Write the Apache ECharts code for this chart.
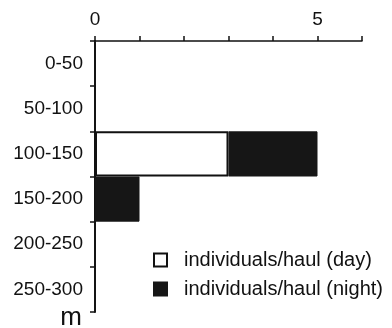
<!DOCTYPE html>
<html>
<head>
<meta charset="utf-8">
<script src="https://cdn.jsdelivr.net/npm/echarts@6/dist/echarts.min.js"></script>
<style>
  html, body { margin: 0; padding: 0; background: #fff; }
  #chart { width: 392px; height: 328px; }
</style>
</head>
<body>
<div id="chart"></div>
<script>
// depth classes (m)
var depths = ['0-50', '50-100', '100-150', '150-200', '200-250', '250-300'];
// individuals per haul
var dayValues = [0, 0, 3, 0, 0, 0];
var nightValues = [0, 0, 2, 1, 0, 0];
var xTickLabels = ['0', '5'];

var font = '"Liberation Sans", Arial, Helvetica, sans-serif';

var chart = echarts.init(document.getElementById('chart'));

var option = {
    animation: false,
    backgroundColor: '#fff',
    textStyle: { fontFamily: font, color: '#000' },
    grid: {
        left: 95,
        top: 41,
        right: 30,
        bottom: 16,
        containLabel: false,
        outerBoundsMode: 'none'
    },
    legend: {
        orient: 'vertical',
        left: 148,
        top: 245,
        itemWidth: 13,
        itemHeight: 13,
        itemGap: 9,
        icon: 'rect',
        textStyle: { fontSize: 20, lineHeight: 20, color: '#111', fontFamily: font, padding: [0, 0, 0, 12] },
        data: [
            { name: 'individuals/haul (day)', itemStyle: { color: '#fff', borderColor: '#111', borderWidth: 2 } },
            { name: 'individuals/haul (night)', itemStyle: { color: '#161616' } }
        ]
    },
    xAxis: {
        type: 'value',
        position: 'top',
        min: 0,
        max: 6,
        interval: 1,
        axisLine: { show: true, lineStyle: { color: '#111', width: 1.5 } },
        axisTick: { show: true, length: 5, lineStyle: { color: '#111', width: 1.5 } },
        splitLine: { show: false },
        axisLabel: {
            margin: 12,
            fontSize: 19,
            color: '#111',
            fontFamily: font,
            formatter: function (v) {
                var s = String(v);
                return xTickLabels.indexOf(s) >= 0 ? s : '';
            }
        }
    },
    yAxis: {
        type: 'category',
        inverse: true,
        data: depths,
        name: 'm',
        nameLocation: 'end',
        nameGap: 6,
        nameTextStyle: {
            fontSize: 26,
            color: '#111',
            fontFamily: font,
            align: 'right',
            verticalAlign: 'middle',
            padding: [0, 13, 0, 0]
        },
        axisLine: { show: true, lineStyle: { color: '#111', width: 2 } },
        axisTick: { show: true, length: 5, lineStyle: { color: '#111', width: 1.5 } },
        axisLabel: { margin: 12, fontSize: 19, color: '#111', fontFamily: font },
        splitLine: { show: false }
    },
    series: [
        {
            name: 'individuals/haul (day)',
            type: 'bar',
            stack: 'haul',
            barCategoryGap: '0%',
            itemStyle: { color: '#fff', borderColor: '#111', borderWidth: 2 },
            data: dayValues
        },
        {
            name: 'individuals/haul (night)',
            type: 'bar',
            stack: 'haul',
            barCategoryGap: '0%',
            itemStyle: { color: '#161616', borderColor: '#161616', borderWidth: 1 },
            data: nightValues
        }
    ]
};

chart.setOption(option);
</script>
</body>
</html>
